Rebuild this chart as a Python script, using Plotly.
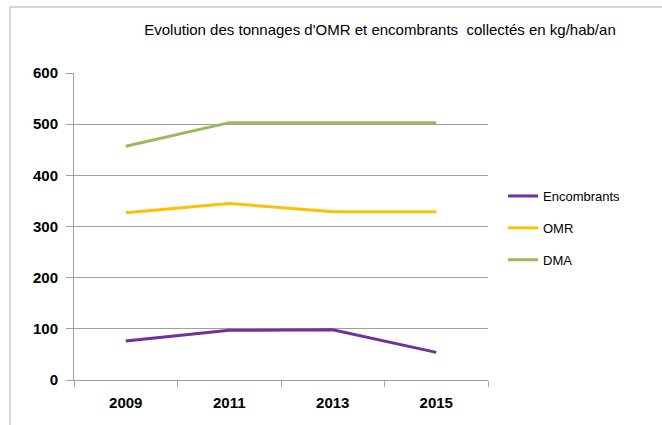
import plotly.graph_objects as go

years = ["2009", "2011", "2013", "2015"]
encombrants = [76, 97, 98, 54]
omr = [327, 345, 329, 329]
dma = [457, 503, 503, 503]
y_ticks = [0, 100, 200, 300, 400, 500, 600]

series = [
    ("Encombrants", encombrants, "#7030A0"),
    ("OMR", omr, "#FFC000"),
    ("DMA", dma, "#9BBB59"),
]

fig = go.Figure()
for i, (name, vals, col) in enumerate(series):
    fig.add_trace(go.Scatter(
        x=years, y=vals, name=name, mode="lines",
        line=dict(color=col, width=3),
        legendgroup=f"g{i}",
    ))

W, H = 662, 425
L, R, T, B = 74, 174, 73, 45
pw, ph = W - L - R, H - T - B

tick_font = dict(size=15, color="#000", weight="bold",
                 family="Liberation Sans Narrow, Liberation Sans, Arial")

fig.update_layout(
    width=W, height=H,
    margin=dict(l=L, r=R, t=T, b=B),
    paper_bgcolor="white", plot_bgcolor="white",
    font=dict(family="Liberation Sans, Arial, sans-serif", color="#000"),
    title=dict(
        text="Evolution des tonnages d'OMR et encombrants  collectés en kg/hab/an",
        x=380 / W, xanchor="center", y=1 - 30 / H, yanchor="middle",
        font=dict(size=15, color="#000"),
    ),
    showlegend=True,
    legend=dict(
        x=(503 - L) / pw, xanchor="left",
        y=1 - (181 - T) / ph, yanchor="top",
        font=dict(size=13, color="#000"),
        tracegroupgap=12,
        bgcolor="rgba(0,0,0,0)",
    ),
    xaxis=dict(
        type="category", categoryorder="array", categoryarray=years,
        range=[-0.5, 3.5],
        showgrid=False, showline=True, linecolor="#a0a0a0", linewidth=1,
        ticks="outside", ticklen=6, tickcolor="#a0a0a0", tickson="boundaries",
        tickfont=tick_font, ticklabelstandoff=9,
        zeroline=False, fixedrange=True,
    ),
    yaxis=dict(
        range=[0, 600], tickvals=y_ticks,
        showgrid=True, gridcolor="#a0a0a0", gridwidth=1,
        showline=True, linecolor="#a0a0a0", linewidth=1,
        ticks="outside", ticklen=7, tickcolor="#a0a0a0",
        tickfont=tick_font, ticklabelstandoff=5,
        zeroline=False, fixedrange=True,
    ),
)

# outer chart frame (left and top edges)
fx0 = (10 - L) / pw
fy1 = 1 + (T - 7) / ph
fig.add_shape(type="line", xref="paper", yref="paper",
              x0=fx0, x1=fx0, y0=-(B + 5) / ph, y1=fy1,
              line=dict(color="#b0b0b0", width=1))
fig.add_shape(type="line", xref="paper", yref="paper",
              x0=fx0, x1=(W - L + 5) / pw, y0=fy1, y1=fy1,
              line=dict(color="#b0b0b0", width=1))

fig.write_html("out.html")
